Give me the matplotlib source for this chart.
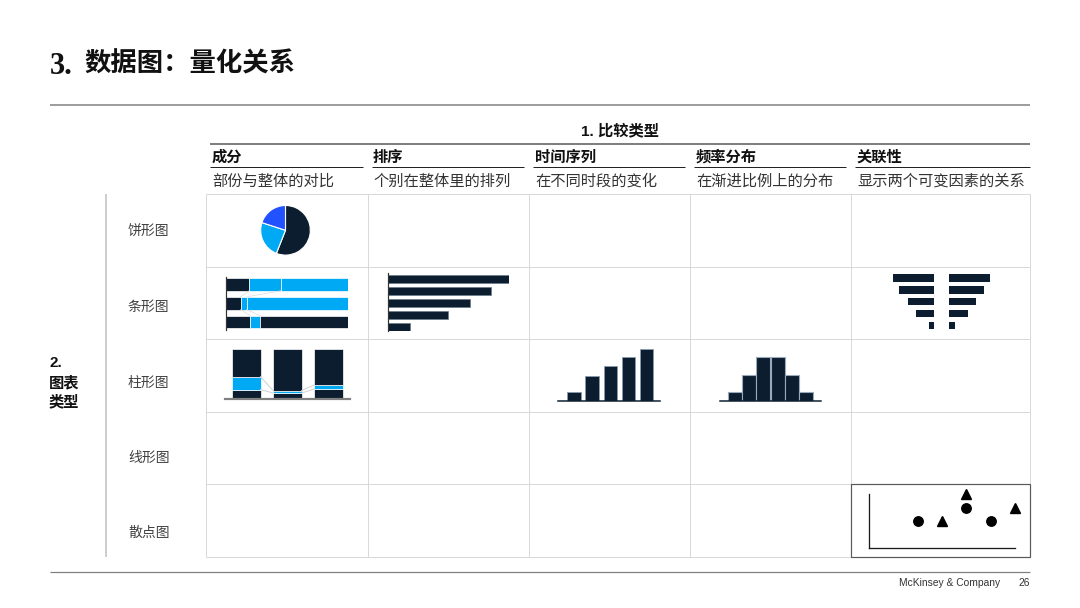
import matplotlib
matplotlib.use('Agg')
import matplotlib.pyplot as plt
import numpy as np

# ---------------- data ----------------
title_num = '3.'
title_text = '数据图：量化关系'
section_x = '1. 比较类型'
section_y = ['2.', '图表', '类型']
col_headers = ['成分', '排序', '时间序列', '频率分布', '关联性']
col_subheaders = ['部份与整体的对比', '个别在整体里的排列', '在不同时段的变化',
                  '在渐进比例上的分布', '显示两个可变因素的关系']
row_labels = ['饼形图', '条形图', '柱形图', '线形图', '散点图']
footer = 'McKinsey & Company'
page_no = '26'

pie_shares = [56, 24, 20]
composition = [[19, 26, 55], [12, 5, 83], [20, 8, 72]]
ranking = [121, 103, 82, 60, 22]
time_series = [9, 25, 35, 44, 52]
frequency = [9, 26, 44, 44, 26, 9]
corr_left = [41, 35, 26, 18, 5]
corr_right = [41, 35, 27, 19, 6]
circle_x = [2, 4, 5]
circle_y = [2, 3, 2]
triangle_x = [3, 4, 6]
triangle_y = [2, 4, 3]

# ---------------- styles ----------------
DARK = '#0b1d2e'
LBLUE = '#00a9f4'
BLUE = '#2251ff'
hbar_colors = [[DARK, LBLUE, LBLUE], [DARK, LBLUE, LBLUE], [DARK, LBLUE, DARK]]
col_colors = [DARK, LBLUE, DARK]
CJK = ['Liberation Sans', 'Noto Sans CJK SC', 'DejaVu Sans']
CJK_ONLY = ['Noto Sans CJK SC', 'DejaVu Sans']

W, H = 1080, 608
PX = 0.72  # points per pixel

fig = plt.figure(figsize=(W / 100, H / 100), dpi=100)
bg = fig.add_axes([0, 0, 1, 1])
bg.set_xlim(0, W)
bg.set_ylim(H, 0)
bg.axis('off')


def inset(x0, y0, x1, y1):
    ax = fig.add_axes([x0 / W, 1 - y1 / H, (x1 - x0) / W, (y1 - y0) / H])
    ax.set_facecolor('none')
    for s in ax.spines.values():
        s.set_visible(False)
    ax.set_xticks([])
    ax.set_yticks([])
    return ax


def hline(y, x0, x1, color, lw):
    bg.plot([x0, x1], [y, y], color=color, lw=lw * PX, solid_capstyle='butt')


def vline(x, y0, y1, color, lw):
    bg.plot([x, x], [y0, y1], color=color, lw=lw * PX, solid_capstyle='butt')


# ---------------- title & frame ----------------
bg.text(50, 66, title_num, family=['Liberation Serif', 'DejaVu Serif'], weight='bold',
        fontsize=22, va='center', ha='left', color='#111111')
bg.text(84, 64, title_text, family=CJK_ONLY, weight='bold', fontsize=19,
        va='center', ha='left', color='#111111')
hline(104.5, 50, 1030, '#7f7f7f', 1.5)
hline(572, 50, 1030, '#7f7f7f', 1.2)
bg.text(899, 583, footer, family=['Liberation Sans', 'DejaVu Sans'], fontsize=7.4,
        va='center', ha='left', color='#333333')
bg.text(1030, 583, page_no, family=['Liberation Sans', 'DejaVu Sans'], fontsize=7.4,
        va='center', ha='right', color='#333333')

# ---------------- headers ----------------
bg.text(620, 131, section_x, family=CJK, weight='bold', fontsize=11, va='center',
        ha='center', color='#111111')
hline(143.5, 210, 1030, '#7f7f7f', 2)

col_x = [206, 368, 529, 690, 851, 1030]
row_y = [194, 266.6, 339.2, 411.8, 484.4, 557]
ul_ranges = [(210, 363), (372, 524), (533, 685), (694, 846), (855, 1030)]
head_x = [212, 373, 535, 696, 857]
for i, (h, sub) in enumerate(zip(col_headers, col_subheaders)):
    bg.text(head_x[i], 157, h, family=CJK_ONLY, weight='bold', fontsize=11,
            va='center', ha='left', color='#111111')
    hline(167.3, ul_ranges[i][0], ul_ranges[i][1], '#222222', 1)
    bg.text(head_x[i], 181, sub, family=CJK_ONLY, fontsize=11,
            va='center', ha='left', color='#333333')

# left labels
for j, t in enumerate(section_y):
    bg.text(49, [363, 383, 402][j], t, family=CJK, weight='bold', fontsize=11,
            va='center', ha='left', color='#111111')
vline(106, 194, 557, '#bfbfbf', 1.5)
label_y = [232, 307, 383, 458, 533]
for lab, y in zip(row_labels, label_y):
    bg.text(128, y, lab, family=CJK_ONLY, fontsize=10, va='center', ha='left',
            color='#404040')

# grid
for x in col_x:
    vline(x, row_y[0], row_y[-1], '#d9d9d9', 1)
for y in row_y:
    hline(y, col_x[0], col_x[-1], '#d9d9d9', 1)
bg.add_patch(plt.Rectangle((851, 484.4), 179, 72.6, fill=False,
                           edgecolor='#595959', lw=1.2 * PX, zorder=5))

# ---------------- pie ----------------
ax = inset(260.2, 205, 310.8, 255.6)
ax.pie(pie_shares, colors=[DARK, LBLUE, BLUE], startangle=90, counterclock=False,
       radius=1, wedgeprops=dict(edgecolor='white', linewidth=0.8))
ax.set_xlim(-1.02, 1.02)
ax.set_ylim(-1.02, 1.02)

# ---------------- stacked horizontal bars ----------------
comp = np.array(composition, dtype=float)
cum = np.cumsum(comp, axis=1)
ax = inset(226, 277, 348, 330)
lefts = np.zeros(len(comp))
hh = 0.68
for j in range(comp.shape[1]):
    ax.barh(range(len(comp)), comp[:, j], left=lefts, height=hh,
            color=[hbar_colors[i][j] for i in range(len(comp))],
            edgecolor='white', linewidth=0.5)
    lefts += comp[:, j]
for k in range(2):
    for i in range(len(comp) - 1):
        ax.plot([cum[i, k], cum[i + 1, k]], [i + hh / 2, i + 1 - hh / 2],
                color='#dcdcdc', lw=0.5)
ax.set_xlim(0, 100)
ax.set_ylim(2.42, -0.39)
ax.spines['left'].set_visible(True)
ax.spines['left'].set_color('#333333')
ax.spines['left'].set_linewidth(1.2 * PX)

# ---------------- ranking bars ----------------
ax = inset(388, 273, 509, 331)
ax.barh(range(len(ranking)), ranking, height=0.68, color=DARK,
        edgecolor='#6b7b8b', linewidth=0.5)
ax.set_xlim(0, max(ranking))
ax.set_ylim(4.38, -0.55)
ax.spines['left'].set_visible(True)
ax.spines['left'].set_color('#333333')
ax.spines['left'].set_linewidth(1.2 * PX)

# ---------------- correlation (tornado) bars ----------------
axl = inset(893, 272.1, 934, 331.4)
axl.barh(range(len(corr_left)), corr_left, height=0.63, color=DARK)
axl.set_xlim(max(corr_left), 0)
axl.set_ylim(4.5, -0.5)
axr = inset(949, 272.1, 990, 331.4)
axr.barh(range(len(corr_right)), corr_right, height=0.63, color=DARK)
axr.set_xlim(0, max(corr_right))
axr.set_ylim(4.5, -0.5)

# ---------------- stacked columns ----------------
ax = inset(225, 349.3, 350, 399)
bottoms = np.zeros(len(comp))
bw = 0.695
for j in range(comp.shape[1]):
    ax.bar(range(len(comp)), comp[:, j], bottom=bottoms, width=bw,
           color=col_colors[j], edgecolor='white', linewidth=0.5)
    bottoms += comp[:, j]
for k in range(2):
    for i in range(len(comp) - 1):
        ax.plot([i + bw / 2, i + 1 - bw / 2], [cum[i, k], cum[i + 1, k]],
                color='#d0d0d0', lw=0.7)
ax.axhline(0, color='#808080', lw=2.2 * PX, clip_on=False)
ax.set_xlim(-0.52, 2.53)
ax.set_ylim(0, 100)

# ---------------- time series columns ----------------
ax = inset(558.3, 349, 660, 401)
ax.bar(range(len(time_series)), time_series, width=0.735, color=DARK,
       edgecolor='#8a9bab', linewidth=0.6)
ax.axhline(0, color=DARK, lw=1.5 * PX, clip_on=False)
ax.set_xlim(-0.87, 4.75)
ax.set_ylim(0, 52)

# ---------------- frequency distribution ----------------
ax = inset(720, 349, 821, 401)
ax.bar(range(len(frequency)), frequency, width=1.0, color=DARK,
       edgecolor='#9aaaba', linewidth=0.8)
ax.axhline(0, color=DARK, lw=1.5 * PX, clip_on=False)
ax.set_xlim(-1.04, 6.04)
ax.set_ylim(0, 52)

# ---------------- scatter ----------------
ax = inset(869, 494, 1015, 548)
ax.plot(circle_x, circle_y, 'o', color='black', ms=6.8, clip_on=False)
ax.plot(triangle_x, triangle_y, '^', color='black', ms=7.2, clip_on=False)
ax.set_xlim(0, 6)
ax.set_ylim(0, 4)
for s in ('left', 'bottom'):
    ax.spines[s].set_visible(True)
    ax.spines[s].set_color('#1a1a1a')
    ax.spines[s].set_linewidth(1.3 * PX)

fig.savefig('out.png', dpi=100)
